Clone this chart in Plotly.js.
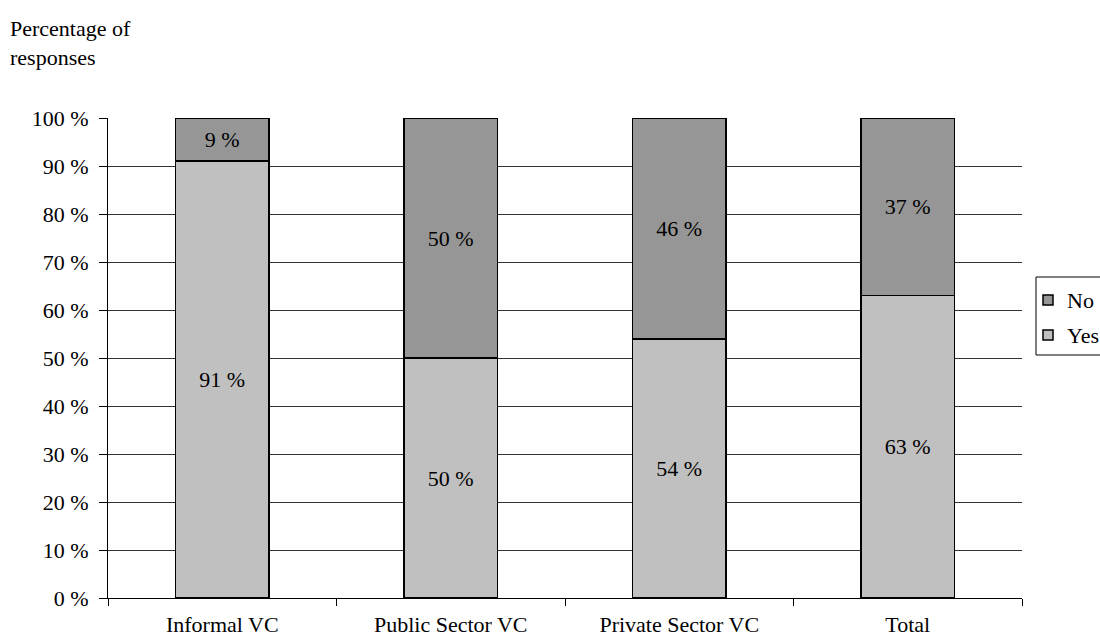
<!DOCTYPE html>
<html>
<head>
<meta charset="utf-8">
<script src="https://cdn.plot.ly/plotly-3.0.1.min.js"></script>
<style>html,body{margin:0;padding:0;background:#fff;}#chart{width:1100px;height:641px;}</style>
</head>
<body>
<div id="chart"></div>
<script>
const categories = ["Informal VC", "Public Sector VC", "Private Sector VC", "Total"];
const yesValues = [91, 50, 54, 63];
const noValues = [9, 50, 46, 37];
const yTicks = [0, 10, 20, 30, 40, 50, 60, 70, 80, 90, 100];
const seriesNames = ["No", "Yes"];
const seriesColors = ["#969696", "#c0c0c0"];

const font = {family: "Liberation Serif, Times New Roman, serif", size: 22, color: "#000"};

const traces = [
  {
    type: "bar", name: "Yes", x: categories, y: yesValues,
    text: yesValues.map(v => v + " %"), textposition: "inside", insidetextanchor: "middle",
    textfont: font, textangle: 0, constraintext: "none",
    marker: {color: seriesColors[1], line: {color: "#000", width: 1.5}},
    width: 0.41, hoverinfo: "skip", showlegend: false
  },
  {
    type: "bar", name: "No", x: categories, y: noValues,
    text: noValues.map(v => v + " %"), textposition: "inside", insidetextanchor: "middle",
    textfont: font, textangle: 0, constraintext: "none",
    marker: {color: seriesColors[0], line: {color: "#000", width: 1.5}},
    width: 0.41, hoverinfo: "skip", showlegend: false
  }
];

// legend drawn with paper-referenced shapes (pixel helpers)
const L = 108, W = 914, B = 598, H = 480;
const px = v => (v - L) / W;
const py = v => (B - v) / H;

const shapes = [
  {type: "rect", xref: "paper", yref: "paper", x0: px(1036), x1: px(1110), y0: py(355), y1: py(277),
   line: {color: "#000", width: 1}, fillcolor: "#fff", layer: "above"}
];
const annotations = [
  {text: "Percentage of<br>responses", xref: "paper", yref: "paper", x: px(8), y: py(42.5),
   xanchor: "left", yanchor: "middle", align: "left", showarrow: false, font: font}
];
seriesNames.forEach((name, i) => {
  const cy = 300 + i * 35;
  shapes.push({type: "rect", xref: "paper", yref: "paper", x0: px(1043), x1: px(1053), y0: py(cy + 5), y1: py(cy - 5),
    line: {color: "#000", width: 1.5}, fillcolor: seriesColors[i], layer: "above"});
  annotations.push({text: name, xref: "paper", yref: "paper", x: px(1065), y: py(cy),
    xanchor: "left", yanchor: "middle", showarrow: false, font: font});
});

const layout = {
  width: 1100, height: 641,
  margin: {l: 108, r: 78, t: 118, b: 43},
  paper_bgcolor: "#fff", plot_bgcolor: "#fff",
  barmode: "stack",
  font: font,
  showlegend: false,
  xaxis: {
    type: "category", showline: true, linecolor: "#000", linewidth: 1,
    tickson: "boundaries", ticks: "outside", ticklen: 7, tickcolor: "#000",
    showgrid: false, tickfont: font, ticklabelstandoff: 7
  },
  yaxis: {
    range: [0, 100], tickvals: yTicks, ticktext: yTicks.map(v => v + " %"),
    showline: true, linecolor: "#000", linewidth: 1,
    ticks: "outside", ticklen: 8, tickcolor: "#000",
    showgrid: true, gridcolor: "#333", gridwidth: 1, zeroline: false,
    tickfont: font, ticklabelstandoff: 6
  },
  shapes: shapes,
  annotations: annotations
};

Plotly.newPlot("chart", traces, layout, {displayModeBar: false, staticPlot: true});
</script>
</body>
</html>
